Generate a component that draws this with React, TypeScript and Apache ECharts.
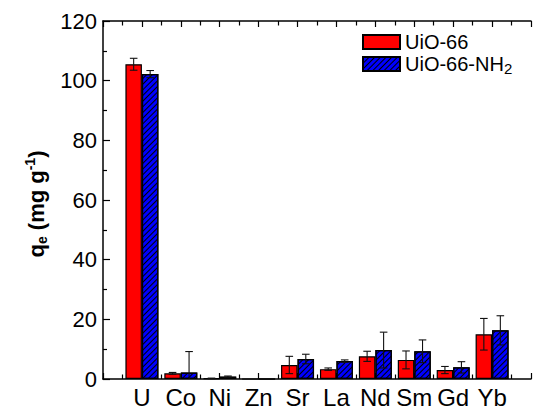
import React, { useEffect, useRef } from "react";
import * as echarts from "echarts";

const categories = ["U", "Co", "Ni", "Zn", "Sr", "La", "Nd", "Sm", "Gd", "Yb"];
const uio66 = [105.5, 1.9, 0.2, 0, 4.7, 3.3, 7.6, 6.4, 3.0, 15.0];
const uio66Err = [2.0, 0.3, 0.1, 0, 2.9, 0.4, 1.7, 3.0, 1.2, 5.3];
const uio66nh2 = [102.2, 2.2, 0.8, 0, 6.7, 6.0, 9.7, 9.3, 3.9, 16.3];
const uio66nh2Err = [1.2, 7.0, 0.2, 0, 1.6, 0.4, 6.0, 3.8, 1.9, 4.9];
const yTicks = [0, 20, 40, 60, 80, 100, 120];

const FONT = "'Liberation Sans', Arial, sans-serif";
const BAR_W = 16.5;

export default function App() {
  const ref = useRef<HTMLDivElement>(null);
  useEffect(() => {
    if (!ref.current) return;
    const chart = echarts.init(ref.current, undefined, { renderer: "svg" });
    const axisData = ["", ...categories, ""];
    const errData = (vals: number[], errs: number[]) =>
      vals.map((v, i) => [i + 1, v, errs[i]]);
    const makeErr = (offset: number) => (params: any, api: any) => {
      const x = api.value(0);
      const v = api.value(1);
      const e = api.value(2);
      if (!e) return null;
      const lo = Math.max(0, v - e);
      const hi = v + e;
      const pHi = api.coord([x, hi]);
      const pLo = api.coord([x, lo]);
      const cx = pHi[0] + offset;
      const cap = 3.8;
      const style = { stroke: "#111", lineWidth: 1.1 };
      const children: any[] = [
        { type: "line", shape: { x1: cx, y1: pHi[1], x2: cx, y2: pLo[1] }, style },
        { type: "line", shape: { x1: cx - cap, y1: pHi[1], x2: cx + cap, y2: pHi[1] }, style },
      ];
      if (v - e > 0) {
        children.push({ type: "line", shape: { x1: cx - cap, y1: pLo[1], x2: cx + cap, y2: pLo[1] }, style });
      }
      return { type: "group", children };
    };
    const valueAxisCommon = {
      type: "value",
      min: 0,
      max: 11,
      interval: 1,
      axisLabel: { show: false },
      splitLine: { show: false },
      axisLine: { show: true, onZero: false, lineStyle: { color: "#000", width: 1.5 } },
      axisTick: { show: true, inside: true, length: 6, lineStyle: { color: "#000", width: 1.2 } },
      minorTick: { show: true, splitNumber: 2, length: 4.5, lineStyle: { color: "#000", width: 1.2 } },
    };
    chart.setOption({
      animation: false,
      backgroundColor: "#fff",
      grid: { left: 103, right: -6, top: 21, bottom: 31, containLabel: false },
      legend: {
        orient: "vertical",
        left: 362,
        top: 32,
        padding: 0,
        itemWidth: 37,
        itemHeight: 14,
        itemGap: 2,
        itemTextGap: 6,
        icon: "rect",
        data: ["UiO-66", "UiO-66-NH2"],
        formatter: (name: string) =>
          name === "UiO-66-NH2" ? "{a|UiO-66-NH}{s|2}" : "{a|" + name + "}",
        textStyle: {
          color: "#000",
          fontFamily: FONT,
          fontSize: 20,
          rich: {
            a: { fontSize: 20, fontFamily: FONT, color: "#000", lineHeight: 24 },
            s: { fontSize: 15, fontFamily: FONT, color: "#000", lineHeight: 13, verticalAlign: "bottom" },
          },
        },
      },
      xAxis: [
        {
          type: "category",
          data: axisData,
          boundaryGap: false,
          position: "bottom",
          axisLine: { show: false },
          axisTick: { show: false },
          splitLine: { show: false },
          axisLabel: { interval: 0, color: "#000", fontFamily: FONT, fontSize: 24, margin: 6 },
        },
        { ...valueAxisCommon, position: "bottom" },
        { ...valueAxisCommon, position: "top" },
      ],
      yAxis: {
        type: "value",
        min: 0,
        max: 120,
        interval: 20,
        splitLine: { show: false },
        axisLine: { show: true, lineStyle: { color: "#000", width: 1.5 } },
        axisTick: { show: true, inside: true, length: 7, lineStyle: { color: "#000", width: 1.2 } },
        minorTick: { show: true, splitNumber: 2, length: 4, lineStyle: { color: "#000", width: 1.2 } },
        axisLabel: {
          color: "#000",
          fontFamily: FONT,
          fontSize: 22,
          margin: 6,
          formatter: (v: number) => (yTicks.includes(v) ? String(v) : ""),
        },
      },
      graphic: [
        {
          type: "text",
          x: 36,
          y: 204,
          rotation: Math.PI / 2,
          style: {
            text: "{m|q}{s|e}{m| (mg g}{p|-1}{m|)}",
            align: "center",
            verticalAlign: "middle",
            rich: {
              m: { fontSize: 22, fontWeight: "bold", fontFamily: FONT, fill: "#000", lineHeight: 26 },
              s: { fontSize: 14, fontWeight: "bold", fontFamily: FONT, fill: "#000", lineHeight: 13, verticalAlign: "bottom" },
              p: { fontSize: 14, fontWeight: "bold", fontFamily: FONT, fill: "#000", lineHeight: 13, verticalAlign: "top" },
            },
          },
        },
      ],
      series: [
        {
          name: "UiO-66",
          type: "bar",
          xAxisIndex: 0,
          barWidth: BAR_W,
          barGap: "0%",
          data: uio66.map((v, i) => [i + 1, v]),
          itemStyle: { color: "#ff0000", borderColor: "#000", borderWidth: 1.2 },
        },
        {
          name: "UiO-66-NH2",
          type: "bar",
          xAxisIndex: 0,
          barWidth: BAR_W,
          barGap: "0%",
          data: uio66nh2.map((v, i) => [i + 1, v]),
          itemStyle: {
            color: "#0000ff",
            borderColor: "#000",
            borderWidth: 1.2,
            decal: {
              symbol: "rect",
              color: "#000",
              dashArrayX: [1, 0],
              dashArrayY: [1, 3],
              rotation: -Math.PI / 4,
            },
          },
        },
        {
          name: "err1",
          type: "custom",
          xAxisIndex: 0,
          data: errData(uio66, uio66Err),
          renderItem: makeErr(-BAR_W / 2),
          z: 5,
        },
        {
          name: "err2",
          type: "custom",
          xAxisIndex: 0,
          data: errData(uio66nh2, uio66nh2Err),
          renderItem: makeErr(BAR_W / 2),
          z: 5,
        },
      ],
    });
    return () => chart.dispose();
  }, []);
  return (
    <div
      ref={ref}
      style={{ position: "fixed", left: 0, top: 0, width: 534, height: 410, background: "#fff" }}
    />
  );
}
